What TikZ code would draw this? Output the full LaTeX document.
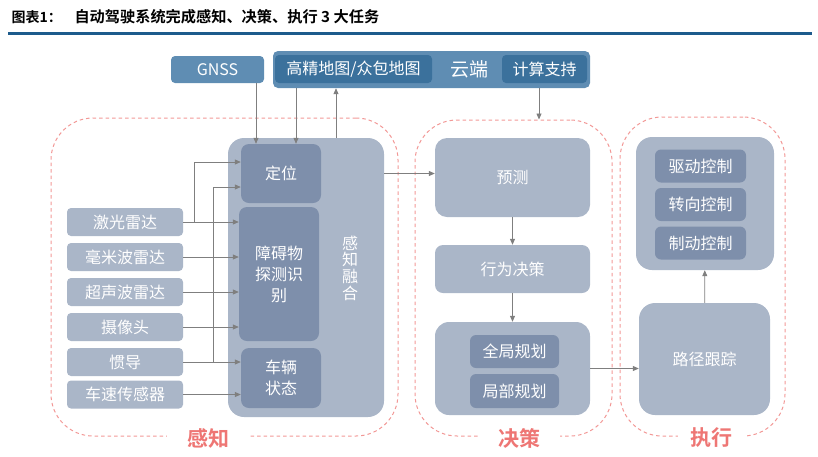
\documentclass[tikz,border=0pt]{standalone}
\usepackage{fontspec}
\setmainfont{Noto Sans CJK SC}[BoldFont={Noto Sans CJK SC Bold}]
\usetikzlibrary{arrows.meta, calc}

\definecolor{boxlight}{HTML}{AAB6C8}
\definecolor{boxdark}{HTML}{7E8FAB}
\definecolor{cloudblue}{HTML}{5F8DB3}
\definecolor{mapblue}{HTML}{3B719C}
\definecolor{regionred}{HTML}{F29896}
\definecolor{labelred}{HTML}{EE7674}
\definecolor{arrowgray}{HTML}{7F7F7F}
\definecolor{rulebold}{HTML}{1D5B8C}

\tikzset{
  box/.style={rectangle, rounded corners=6, fill=boxlight, text=white, inner sep=0pt,
    font=\fontsize{16}{21}\selectfont, align=center},
  inbox/.style={box, fill=boxdark},
  sensor/.style={box, minimum width=116, minimum height=28, rounded corners=4},
  cloudbox/.style={box, fill=mapblue, minimum height=28, rounded corners=4},
  region/.style={draw=regionred, line width=1pt, dash pattern=on 3.5pt off 3pt,
    rounded corners=42, inner sep=0pt},
  tag/.style={fill=white, text=labelred, inner sep=0pt, minimum height=24,
    font=\fontsize{21}{21}\selectfont\bfseries},
  arr/.style={draw=arrowgray, line width=0.8pt, -{Triangle[length=6pt,width=5pt]}}
}

\begin{document}
\begin{tikzpicture}[x=1pt,y=-1pt]
  \useasboundingbox (0,0) rectangle (818,456);

  % title
  \node[anchor=west, font=\fontsize{14}{14}\selectfont\bfseries] (tabno) at (8,17) {图表1：};
  \node[anchor=west, font=\fontsize{15.2}{15}\selectfont\bfseries] (title) at (71,17)
    {自动驾驶系统完成感知、决策、执行 3 大任务};
  \draw[rulebold, line width=2.3pt] (8,33.5) -- (812,33.5);

  % dashed areas
  \node[region, minimum width=347, minimum height=318] (percarea) at (224.5,277) {};
  \node[region, minimum width=197, minimum height=316] (deciarea) at (513.5,278) {};
  \node[region, minimum width=165, minimum height=319] (execarea) at (702.5,276.5) {};
  \node[tag, minimum width=82] (perctag) at (208,438) {感知};
  \node[tag, minimum width=82] (decitag) at (519,438) {决策};
  \node[tag, minimum width=67] (exectag) at (711.5,438) {执行};

  % cloud
  \node[box, fill=cloudblue, minimum width=93, minimum height=27, rounded corners=4] (gnss) at (217.5,69.5) {GNSS};
  \node[box, fill=cloudblue, minimum width=317, minimum height=37, rounded corners=5] (cloud) at (431.5,69.5) {};
  \node[cloudbox, minimum width=157] (hdmap) at (353.5,69) {高精地图/众包地图};
  \node[text=white, font=\fontsize{19}{19}\selectfont] (yun) at (469,69) {云端};
  \node[cloudbox, minimum width=85] (compute) at (544.5,69) {计算支持};

  % perception
  \node[box, minimum width=156, minimum height=279, rounded corners=16] (fusion) at (306,277.5) {};
  \node[inbox, minimum width=80, minimum height=59, rounded corners=8] (loc) at (281,173.5) {定位};
  \node[inbox, minimum width=80, minimum height=134, rounded corners=8] (obst) at (279,274) {障碍物\\探测识\\别};
  \node[inbox, minimum width=80, minimum height=60, rounded corners=8] (veh) at (281,378) {车辆\\状态};
  \node[text=white, align=center, font=\fontsize{16}{16.7}\selectfont] (fuslabel) at (350,268) {感\\知\\融\\合};
  \foreach \name/\txt/\y in {lidar/激光雷达/222, mmw/毫米波雷达/257, ultra/超声波雷达/292,
      cam/摄像头/327, imu/惯导/362, speed/车速传感器/394.5}
    \node[sensor] (\name) at (125,\y) {\txt};

  % decision
  \node[box, minimum width=155, minimum height=79, rounded corners=12] (pred) at (512.5,177.5) {预测};
  \node[box, minimum width=155, minimum height=48, rounded corners=8] (behav) at (512.5,269) {行为决策};
  \node[box, minimum width=155, minimum height=93, rounded corners=14] (plan) at (512.5,368.5) {};
  \node[inbox, minimum width=89, minimum height=33] (global) at (514.5,351.5) {全局规划};
  \node[inbox, minimum width=89, minimum height=34] (local) at (514.5,391) {局部规划};

  % execution
  \node[box, minimum width=138, minimum height=133, rounded corners=16] (ctrl) at (705,203.5) {};
  \foreach \name/\txt/\y in {drive/驱动控制/166, steer/转向控制/204.5, brake/制动控制/243}
    \node[inbox, minimum width=91, minimum height=33] (\name) at (700.5,\y) {\txt};
  \node[box, minimum width=131, minimum height=112, rounded corners=16] (track) at (704.5,359) {路径跟踪};

  % connectors
  \coordinate (gx) at (256,0);
  \coordinate (mx) at (296,0);
  \coordinate (ux) at (336,0);
  \coordinate (cx) at (539,0);
  \coordinate (lx) at (194,0);
  \coordinate (ix) at (213,0);
  \draw[arr] (gnss.south -| gx) -- (loc.north -| gx);
  \draw[arr] (cloud.south -| mx) -- (loc.north -| mx);
  \draw[arr] (fusion.north -| ux) -- (cloud.south -| ux);
  \draw[arr] (cloud.south -| cx) -- (deciarea.north -| cx);
  \foreach \name in {lidar, mmw, ultra, cam}
    \draw[arr] (\name.east) -- (\name.east -| obst.west);
  \foreach \name in {imu, speed}
    \draw[arr] (\name.east) -- (\name.east -| veh.west);
  \draw[arr] (lidar.east -| lx) |- ($(loc.west)+(0,-11.5)$);
  \draw[arr] (imu.east -| ix) |- ($(loc.west)+(0,13.5)$);
  \draw[arr] (loc -| fusion.east) -- (loc -| pred.west);
  \draw[arr] (pred) -- (behav);
  \draw[arr] (behav) -- (plan);
  \draw[arr] (plan.east) -- (plan.east -| track.west);
  \draw[arr] (track) -- (ctrl);
\end{tikzpicture}
\end{document}
